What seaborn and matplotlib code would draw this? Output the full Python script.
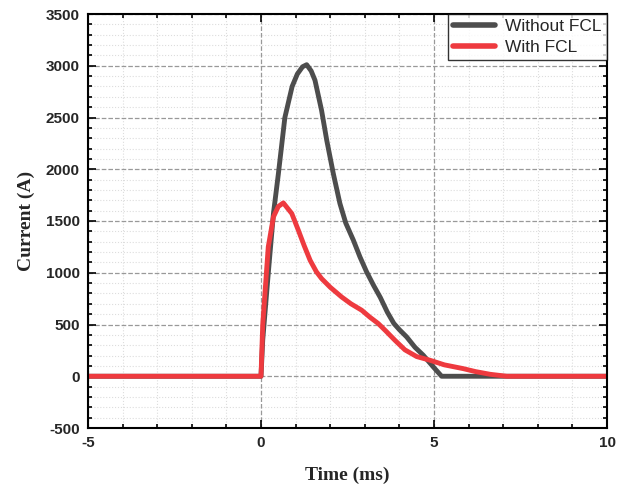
import numpy as np
import pandas as pd
import matplotlib
matplotlib.use('Agg')
import matplotlib.pyplot as plt
import seaborn as sns
from matplotlib.ticker import MultipleLocator

# Without FCL
t_without = [-5, 0, 0.05, 0.21, 0.36, 0.5, 0.69, 0.9, 1.05, 1.2, 1.32, 1.45, 1.56, 1.75, 1.9, 2.09,
             2.28, 2.45, 2.67, 2.86, 3.05, 3.25, 3.45, 3.65, 3.84, 4.0, 4.21, 4.45, 4.69, 4.98,
             5.22, 6.0, 7.0, 10]
i_without = [0, 0, 350, 995, 1573, 1950, 2500, 2800, 2920, 2990, 3010, 2950, 2860, 2570, 2280, 1958,
             1670, 1480, 1314, 1153, 1010, 880, 760, 620, 510, 450, 380, 280, 203, 90,
             0, 0, 0, 0]

# With FCL
t_with = [-5, 0, 0.05, 0.21, 0.36, 0.5, 0.645, 0.89, 1.08, 1.25, 1.42, 1.6, 1.75, 2.0, 2.33, 2.6,
          2.91, 3.15, 3.39, 3.6, 3.87, 4.16, 4.5, 4.88, 5.3, 5.84, 6.2, 6.62, 7.1, 10]
i_with = [0, 0, 500, 1250, 1540, 1640, 1675, 1572, 1410, 1260, 1120, 1010, 944, 860, 766, 700,
          638, 570, 509, 440, 348, 255, 190, 155, 110, 74, 45, 19, 0, 0]

sns.set_style("ticks")
plt.rcParams['font.family'] = ['Liberation Sans', 'DejaVu Sans']
plt.rcParams['axes.unicode_minus'] = False

fig = plt.figure(figsize=(6.26, 4.93), dpi=100)
ax = fig.add_axes([88 / 626, 1 - 428 / 493, (607 - 88) / 626, (428 - 14) / 493])

sns.lineplot(x=t_without, y=i_without, ax=ax, color='#4d4d4d', linewidth=3.5, label='Without FCL')
sns.lineplot(x=t_with, y=i_with, ax=ax, color='#ee3a3f', linewidth=3.5, label='With FCL')

ax.set_xlim(-5, 10)
ax.set_ylim(-500, 3500)
ax.xaxis.set_major_locator(MultipleLocator(5))
ax.xaxis.set_minor_locator(MultipleLocator(1))
ax.yaxis.set_major_locator(MultipleLocator(500))
ax.yaxis.set_minor_locator(MultipleLocator(100))

ax.grid(which='major', color='#999999', linestyle='--', linewidth=0.9)
ax.grid(which='minor', color='#dddddd', linestyle=':', linewidth=0.8)
ax.set_axisbelow(True)

ax.tick_params(which='both', direction='in', top=True, right=True, width=1.2, color='black')
ax.tick_params(which='major', length=6, labelsize=11, pad=6)
ax.tick_params(which='minor', length=3)
for lab in ax.get_xticklabels() + ax.get_yticklabels():
    lab.set_fontweight('bold')
for sp in ax.spines.values():
    sp.set_linewidth(1.5)
    sp.set_color('black')

ax.set_xlabel('Time (ms)', family='Liberation Serif', fontweight='bold', fontsize=14, labelpad=12)
ax.set_ylabel('Current (A)', family='Liberation Serif', fontweight='bold', fontsize=14, labelpad=8)

leg = ax.legend(loc='upper right', fontsize=12.5, frameon=True, fancybox=False, borderaxespad=0,
                handlelength=2.4, borderpad=0.3, labelspacing=0.3, handletextpad=0.6)
leg.get_frame().set_edgecolor('black')
leg.get_frame().set_linewidth(1.0)
for line in leg.get_lines():
    line.set_linewidth(4)

fig.savefig('out.png', dpi=100)
